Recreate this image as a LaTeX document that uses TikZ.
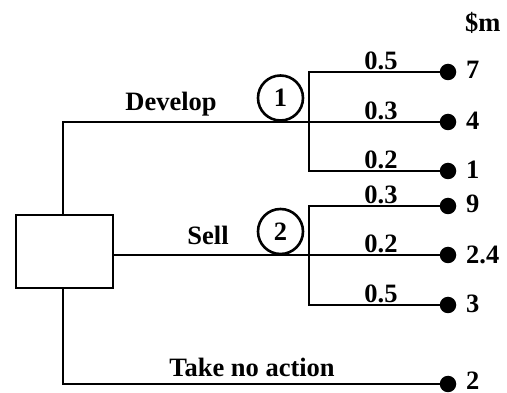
\documentclass[tikz,border=0pt]{standalone}
\usepackage{fontspec}
\setmainfont{Liberation Serif}
\begin{document}
\begin{tikzpicture}[x=1pt,y=-1pt,
  every node/.style={font=\fontsize{26.5}{30}\selectfont\bfseries},
  ln/.style={line width=2.9pt},
  decbox/.style={draw,line width=2.9pt,minimum width=97pt,minimum height=73pt,inner sep=0pt},
  chance/.style={draw,circle,line width=2.6pt,minimum size=45pt,inner sep=0pt},
  term/.style={circle,fill=black,minimum size=16.5pt,inner sep=0pt},
  prob/.style={anchor=base,inner sep=0pt},
  val/.style={anchor=base west,inner sep=0pt,text depth=0pt},
  lab/.style={anchor=base,inner sep=0pt}]
\useasboundingbox (0,0) rectangle (507,393);
% decision node
\node[decbox] (dec) at (64.5,251.5) {};
% chance nodes
\node[chance] (c1) at (280.5,98) {1};
\node[chance] (c2) at (280.5,231.5) {2};
% terminal dots
\node[term] (t7) at (448,72) {};
\node[term] (t4) at (448,122) {};
\node[term] (t1) at (448,171) {};
\node[term] (t9) at (448,206) {};
\node[term] (t24) at (448,255) {};
\node[term] (t3) at (448,305) {};
\node[term] (t2) at (448,384) {};
% junctions
\coordinate (j1) at (309,122);
\coordinate (j2) at (309,255);
% connectors
\draw[ln] (dec.north -| 63,0) |- (t4.center);
\draw[ln] (dec.south -| 63,0) |- (t2.center);
\draw[ln] (dec.east |- t24) -- (t24.center);
\draw[ln] (t7.center) -| (j1) |- (t1.center);
\draw[ln] (t9.center) -| (j2) |- (t3.center);
% labels
\node[lab] (ldev) at (171,110.5) {Develop};
\node[lab] (lsell) at (208,245) {Sell};
\node[lab] (ltake) at (252,377) {Take no action};
\node[prob] (p1) at (381,70) {0.5};
\node[prob] (p2) at (381,120) {0.3};
\node[prob] (p3) at (381,169) {0.2};
\node[prob] (p4) at (381,204) {0.3};
\node[prob] (p5) at (381,253) {0.2};
\node[prob] (p6) at (381,303) {0.5};
\node[val] (v7) at (466,78.5) {7};
\node[val] (v4) at (466,129.5) {4};
\node[val] (v1) at (466,178.5) {1};
\node[val] (v9) at (466,213) {9};
\node[val] (v24) at (466,263.5) {2.4};
\node[val] (v3) at (466,313) {3};
\node[val] (v2) at (466,389) {2};
\node[val] (unit) at (465,32) {\$m};
\end{tikzpicture}
\end{document}
